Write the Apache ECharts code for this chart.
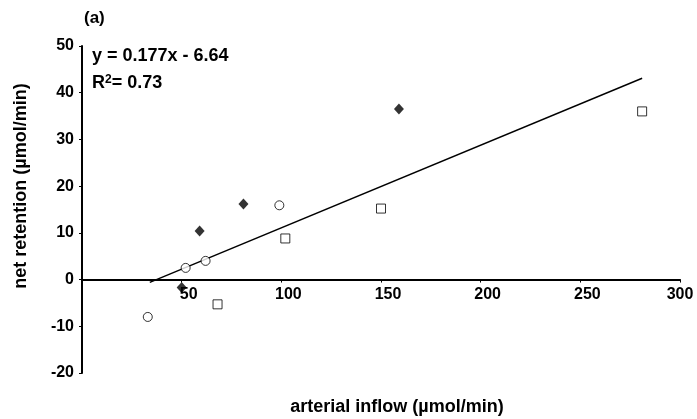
<!DOCTYPE html>
<html>
<head>
<meta charset="utf-8">
<script src="https://cdn.jsdelivr.net/npm/echarts@6/dist/echarts.min.js"></script>
<style>
  html, body { margin: 0; padding: 0; background: #fff; }
  #chart { width: 697px; height: 419px; }
</style>
</head>
<body>
<div id="chart"></div>
<script>
// values
var diamondPoints = [[50, -1.7], [59, 10.4], [81, 16.2], [159, 36.5]];
var circlePoints = [[33, -8.0], [52, 2.5], [62, 4.0], [99, 15.9]];
var squarePoints = [[68, -5.3], [102, 8.8], [150, 15.2], [281, 36.0]];
// fitted line y = 0.177x - 6.64, drawn between the end points seen in the figure
var trendLine = [[34, -0.6], [281, 43.1]];
var xTicks = [0, 50, 100, 150, 200, 250, 300];
var yTicks = [-20, -10, 0, 10, 20, 30, 40, 50];

var font = "'Liberation Sans', Arial, sans-serif";
var gridTop = 46, gridBottom = 46, chartHeight = 419;
var chart = echarts.init(document.getElementById("chart"));

// x axis sits on y = 0, labels just under it
var yMin = yTicks[0], yMax = yTicks[yTicks.length - 1];
var xMax = xTicks[xTicks.length - 1];
var zeroOffset = -(chartHeight - gridTop - gridBottom) * (0 - yMin) / (yMax - yMin);

var openStyle = { color: "#fff", borderColor: "#000", borderWidth: 1 };

chart.setOption({
    animation: false,
    backgroundColor: "#fff",
    grid: { left: 82, right: 17, top: gridTop, bottom: gridBottom, containLabel: false, outerBoundsMode: "none" },
    xAxis: {
        type: "value",
        position: "bottom",
        offset: zeroOffset,
        min: xTicks[0],
        max: xMax,
        interval: 50,
        axisLine: { onZero: false, lineStyle: { color: "#000", width: 2 } },
        axisTick: { show: true, length: 3, lineStyle: { color: "#000" } },
        splitLine: { show: false },
        axisLabel: {
            color: "#000", fontFamily: font, fontSize: 16, fontWeight: "bold", margin: 7,
            // labels in the original sit a little right of their ticks, except the last one
            formatter: function (v) {
                if (v === 0) return "";
                return v === xMax ? String(v) : "{r|" + v + "}";
            },
            rich: { r: { fontFamily: font, fontSize: 16, fontWeight: "bold", color: "#000", padding: [0, 0, 0, 14] } }
        }
    },
    yAxis: {
        type: "value",
        min: yMin,
        max: yMax,
        interval: 10,
        axisLine: { show: true, onZero: false, lineStyle: { color: "#000", width: 2 } },
        axisTick: { show: true, length: 3, lineStyle: { color: "#000" } },
        splitLine: { show: false },
        axisLabel: { color: "#000", fontFamily: font, fontSize: 16, fontWeight: "bold", margin: 8 }
    },
    series: [
        {
            type: "line",
            data: trendLine,
            symbol: "none",
            lineStyle: { color: "#000", width: 1.4 },
            z: 1
        },
        {
            type: "scatter",
            data: diamondPoints,
            symbol: "diamond",
            symbolSize: [10, 11],
            itemStyle: { color: "#000" },
            z: 3
        },
        {
            type: "scatter",
            data: circlePoints,
            symbol: "circle",
            symbolSize: 9,
            itemStyle: openStyle,
            z: 3
        },
        {
            type: "scatter",
            data: squarePoints,
            symbol: "rect",
            symbolSize: 9,
            itemStyle: openStyle,
            z: 3
        }
    ],
    graphic: [
        {
            type: "text", left: 84, top: 10,
            style: { text: "(a)", font: "bold 17px " + font, fill: "#000" }
        },
        {
            type: "text", x: 92, y: 56,
            style: {
                text: "y = 0.177x - 6.64", font: "bold 18px " + font, fill: "#000",
                verticalAlign: "middle"
            }
        },
        {
            type: "text", x: 92, y: 83,
            style: {
                text: "R{s|2}= 0.73",
                font: "bold 18px " + font, fill: "#000", verticalAlign: "middle",
                rich: { s: { fontSize: 12, fontWeight: "bold", fontFamily: font, verticalAlign: "top", padding: [0, 0, 7, 0] } }
            }
        },
        {
            type: "text", x: 397, y: 407,
            style: {
                text: "arterial inflow (\u00b5mol/min)", font: "bold 18px " + font, fill: "#000",
                align: "center", verticalAlign: "middle"
            }
        },
        {
            type: "text", x: 21, y: 186, rotation: Math.PI / 2,
            style: {
                text: "net retention (\u00b5mol/min)", font: "bold 18px " + font, fill: "#000",
                align: "center", verticalAlign: "middle"
            }
        }
    ]
});
</script>
</body>
</html>
